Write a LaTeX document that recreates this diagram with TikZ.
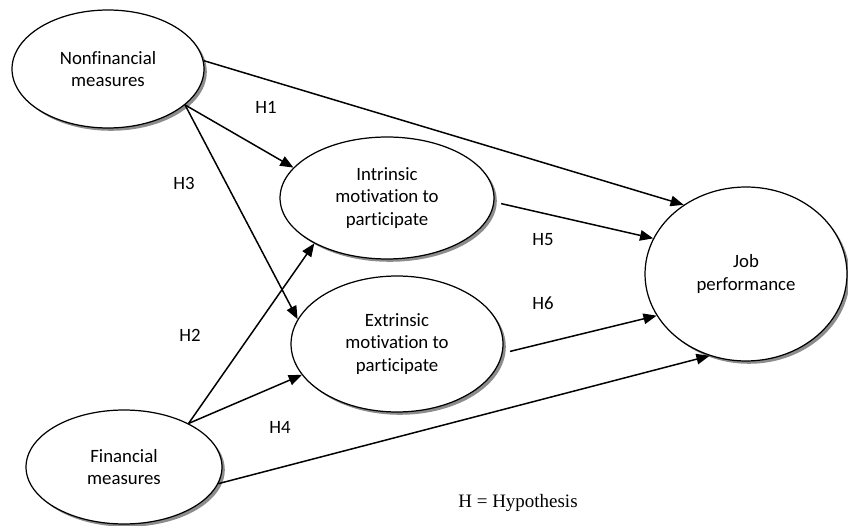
\documentclass[tikz,border=0pt]{standalone}
\usepackage{fontspec}
\setmainfont{Carlito}[Ligatures=NoCommon]
\newfontfamily\notefont{Liberation Serif}
\usepackage{tikz}
\usetikzlibrary{arrows.meta,shapes.geometric,shadows}
\definecolor{shade}{HTML}{8C8C8C}

\begin{document}
\begin{tikzpicture}[x=0.02cm,y=-0.02cm,
  every node/.style={font=\fontsize{10.7}{13}\selectfont,align=center},
  blob/.style={ellipse,draw=black,line width=0.7pt,fill=white,inner sep=0pt,
    general shadow={fill=shade,shadow xshift=1.6pt,shadow yshift=-1.6pt}},
  arr/.style={-{Triangle[length=7.5pt,width=6pt]},line width=0.85pt},
  hyp/.style={inner sep=0pt}]
  \useasboundingbox (0,0) rectangle (848,526);
  % constructs
  \node (nf) [blob,minimum width=3.84cm,minimum height=2.36cm] at (108,69) {Nonfinancial\\measures};
  \node (fin) [blob,minimum width=3.92cm,minimum height=2.28cm] at (124,467) {Financial\\measures};
  \node (intr) [blob,minimum width=4.28cm,minimum height=2.44cm] at (387,198) {Intrinsic\\motivation to\\participate};
  \node (extr) [blob,minimum width=4.24cm,minimum height=2.72cm] at (397,344) {Extrinsic\\motivation to\\participate};
  \node (job) [blob,minimum width=4.04cm,minimum height=3.48cm] at (746,274) {Job\\performance};
  % paths
  \draw[arr] (nf.5) -- (job.132);
  \draw[arr] (nf.-25) -- (intr.162);
  \draw[arr] (nf.-25) -- (extr.166);
  \draw[arr] ([xshift=4pt]intr.-3) -- (job.159);
  \draw[arr] ([xshift=4pt]extr.-4) -- (job.205);
  \draw[arr] (fin.34) -- (intr.212);
  \draw[arr] (fin.34) -- (extr.198);
  \draw[arr] (fin.-10) -- (job.246);
  % hypotheses
  \node (h1) [hyp] at (266,107) {H1};
  \node (h3) [hyp] at (184,183) {H3};
  \node (h2) [hyp] at (190,335) {H2};
  \node (h4) [hyp] at (280,427) {H4};
  \node (h5) [hyp] at (543,240) {H5};
  \node (h6) [hyp] at (543,303) {H6};
  \node (key) [hyp,font=\notefont\fontsize{10.8}{13}\selectfont] at (518,503) {H = Hypothesis};
\end{tikzpicture}
\end{document}
